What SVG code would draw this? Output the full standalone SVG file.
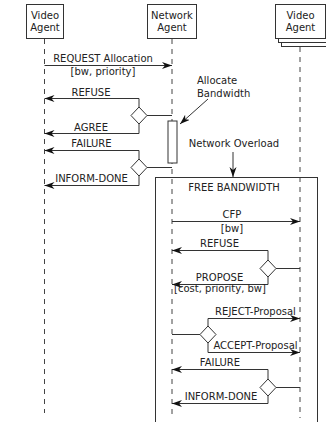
<svg xmlns="http://www.w3.org/2000/svg" width="326" height="422" viewBox="0 0 326 422">
<style>
text{font-family:"DejaVu Sans","Liberation Sans",sans-serif;font-size:10px;fill:#222}
.c{text-anchor:middle}
.box{fill:#fff;stroke:#333;stroke-width:1}
.life{stroke:#444;stroke-width:1;stroke-dasharray:5,5;fill:none}
.msg{stroke:#333;stroke-width:1;fill:none}
.arr{marker-end:url(#ah)}
.dia{fill:#fff;stroke:#333;stroke-width:1}
</style>
<defs>
<marker id="ah" markerUnits="userSpaceOnUse" markerWidth="11" markerHeight="8" refX="10" refY="3.5" orient="auto">
<path d="M0,0 L10,3.5 L0,7 L3,3.5 z" fill="#111"/>
</marker>
</defs>
<rect width="326" height="422" fill="#fff"/>
<g id="lifelines">
<line class="life" x1="44.5" y1="39" x2="44.5" y2="413"/>
<line class="life" x1="172" y1="39" x2="172" y2="418"/>
<line class="life" x1="300" y1="47" x2="300" y2="418"/>
</g>
<g id="video-agent-1">
<rect class="box" x="26.5" y="4.5" width="37" height="34"/>
<text class="c" x="45" y="19">Video</text>
<text class="c" x="45" y="31">Agent</text>
</g>
<g id="network-agent">
<rect class="box" x="147.5" y="4.5" width="49" height="34"/>
<text class="c" x="172" y="19">Network</text>
<text class="c" x="172" y="31">Agent</text>
</g>
<g id="video-agent-2">
<rect class="box" x="281.5" y="12.5" width="50" height="34"/>
<rect class="box" x="278.5" y="8.5" width="50" height="34"/>
<rect class="box" x="275.5" y="4.5" width="50" height="34"/>
<text class="c" x="300.5" y="19">Video</text>
<text class="c" x="300.5" y="31">Agent</text>
</g>
<g id="activation">
<rect class="box" x="168" y="121" width="9" height="42"/>
</g>
<g id="frame">
<rect class="box" x="155.5" y="177.5" width="162" height="260" fill="none" style="fill:none"/>
<text class="c" x="234" y="191">FREE BANDWIDTH</text>
</g>
<g id="note-allocate">
<text x="197" y="84">Allocate</text>
<text x="197" y="97">Bandwidth</text>
</g>
<g id="note-overload">
<text class="c" x="234" y="147">Network Overload</text>
</g>
<g id="connectors">
<line class="msg arr" x1="208" y1="99" x2="180" y2="124"/>
<line class="msg arr" x1="233" y1="152" x2="233" y2="177"/>
<!-- REQUEST -->
<line class="msg arr" x1="44.5" y1="65.5" x2="172" y2="65.5"/>
<!-- REFUSE / AGREE -->
<polyline class="msg arr" points="139,107 139,98.5 44.5,98.5"/>
<line class="msg" x1="147" y1="115.5" x2="172" y2="115.5"/>
<polyline class="msg arr" points="139,123 139,133.5 44.5,133.5"/>
<!-- FAILURE / INFORM-DONE -->
<polyline class="msg arr" points="139,159 139,150.5 44.5,150.5"/>
<line class="msg" x1="147" y1="167.5" x2="172" y2="167.5"/>
<polyline class="msg arr" points="139,175 139,185.5 44.5,185.5"/>
<!-- CFP -->
<line class="msg arr" x1="172" y1="221.5" x2="300" y2="221.5"/>
<!-- REFUSE / PROPOSE -->
<polyline class="msg arr" points="268,260 268,250.5 172,250.5"/>
<line class="msg" x1="276" y1="268.5" x2="300" y2="268.5"/>
<polyline class="msg arr" points="268,276 268,284.5 172,284.5"/>
<!-- REJECT / ACCEPT -->
<line class="msg" x1="172" y1="334.5" x2="200" y2="334.5"/>
<polyline class="msg arr" points="208,326 208,318.5 300,318.5"/>
<polyline class="msg arr" points="208,342 208,352.5 300,352.5"/>
<!-- FAILURE / INFORM-DONE -->
<polyline class="msg arr" points="268,379 268,369.5 172,369.5"/>
<line class="msg" x1="276" y1="387.5" x2="300" y2="387.5"/>
<polyline class="msg arr" points="268,395 268,403.5 172,403.5"/>
</g>
<g id="decisions">
<polygon class="dia" points="139,107 147,115.5 139,124 131,115.5"/>
<polygon class="dia" points="139,159 147,167.5 139,176 131,167.5"/>
<polygon class="dia" points="268,260 276,268.5 268,277 260,268.5"/>
<polygon class="dia" points="208,326 216,334.5 208,343 200,334.5"/>
<polygon class="dia" points="268,379 276,387.5 268,396 260,387.5"/>
</g>
<g id="labels">
<text class="c" x="103" y="62">REQUEST Allocation</text>
<text class="c" x="103" y="75">[bw, priority]</text>
<text class="c" x="91" y="96">REFUSE</text>
<text class="c" x="91" y="131">AGREE</text>
<text class="c" x="91.5" y="147">FAILURE</text>
<text class="c" x="91.5" y="182">INFORM-DONE</text>
<text class="c" x="232" y="218">CFP</text>
<text class="c" x="232" y="232">[bw]</text>
<text class="c" x="219.5" y="247">REFUSE</text>
<text class="c" x="219.5" y="281">PROPOSE</text>
<text class="c" x="220" y="292">[cost, priority, bw]</text>
<text class="c" x="255.5" y="315">REJECT-Proposal</text>
<text class="c" x="255.5" y="349">ACCEPT-Proposal</text>
<text class="c" x="220" y="366">FAILURE</text>
<text class="c" x="221" y="400">INFORM-DONE</text>
</g>
</svg>
